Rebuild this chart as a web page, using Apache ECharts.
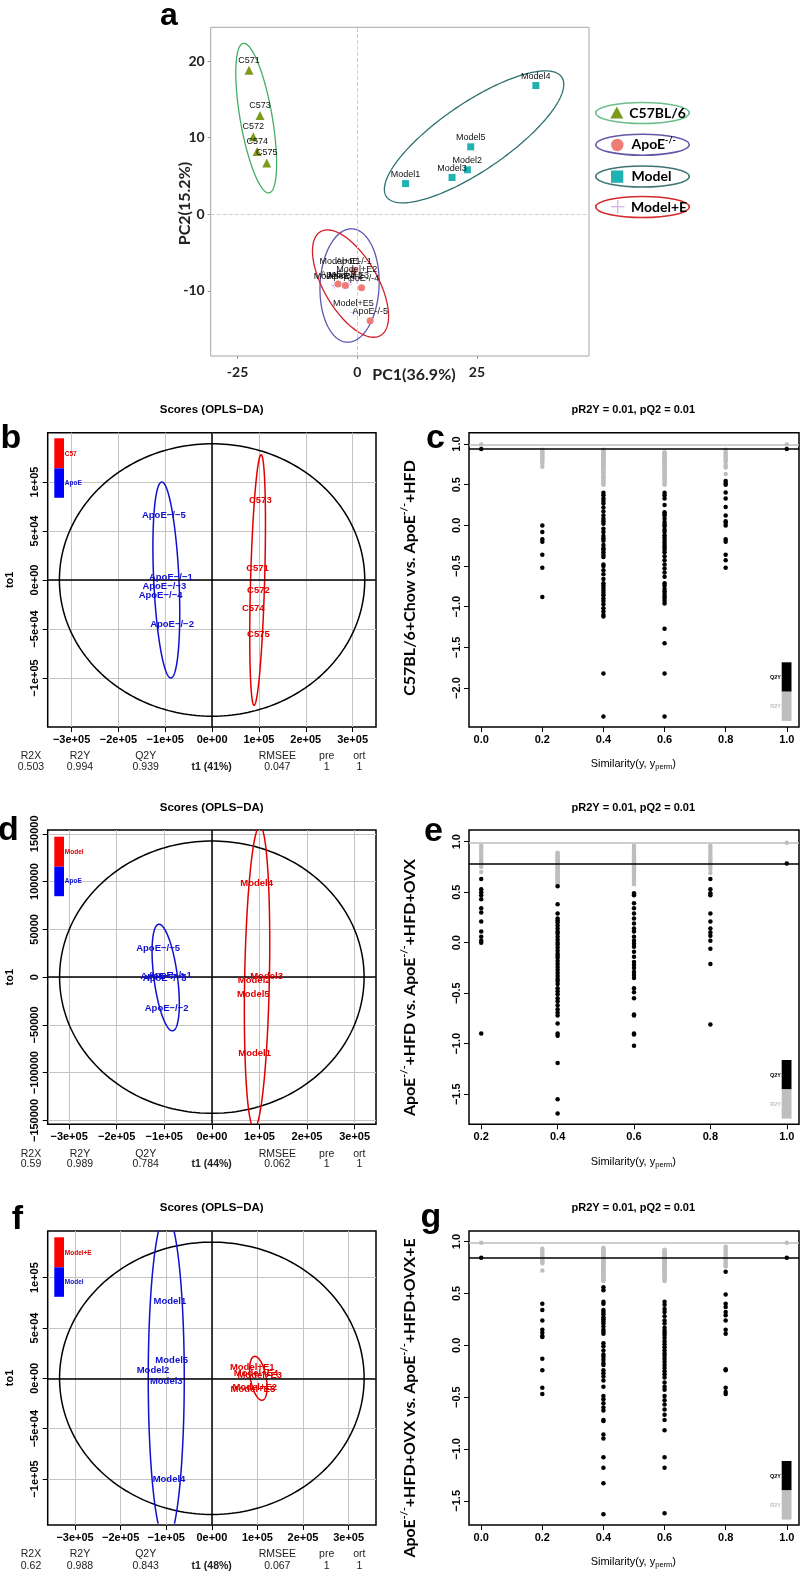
<!DOCTYPE html>
<html><head><meta charset="utf-8">
<script src="https://cdn.jsdelivr.net/npm/echarts@6/dist/echarts.min.js"></script>
<style>html,body{margin:0;padding:0;background:#fff}#c{width:800px;height:1572px}</style>
</head><body><div id="c"></div><script>
// ---------------- DATA ----------------
// Panel a (PCA)
const aC57Names = ['C571','C573','C572','C574','C575'];
const aC57X = [-22.6,-20.3,-21.7,-20.9,-18.9];
const aC57Y = [18.8,12.9,10.1,8.2,6.7];
const aModelNames = ['Model4','Model5','Model2','Model3','Model1'];
const aModelX = [37.3,23.7,23.0,19.8,10.1];
const aModelY = [16.8,8.8,5.8,4.8,4.0];
const aApoENames = ['ApoE-/-1','ApoE-/-3','ApoE-/-2','ApoE-/-4','ApoE-/-5'];
const aApoEX = [-0.7,-4.0,-2.5,0.9,2.7];
const aApoEY = [-7.3,-9.1,-9.3,-9.6,-13.9];
const aMENames = ['Model+E1','Model+E2','Model+E3','Model+E4','Model+E5'];
const aMEX = [-3.6,-0.1,-1.8,-4.8,-0.8];
const aMEY = [-7.4,-8.4,-9.2,-9.3,-12.8];
// ellipse: [centerX, centerY, axis1X, axis1Y, axis2X, axis2Y]
const aEllC57 = [-21.1,12.55,-2.7,9.75,3.3,0.35];
const aEllModel = [24.4,10.1,18.3,7.8,4.0,-3.65];
const aEllApoE = [-1.6,-9.3,0.52,7.4,6.16,-0.17];
const aEllME = [-1.4,-9.05,6.26,-6.78,4.89,1.76];
const aXTicks = [-25,0,25];
const aYTicks = [-10,0,10,20];

// Panel b (OPLS-DA C57 vs ApoE)
const bC57Names = ['C573','C571','C572','C574','C575'];
const bC57X = [1.03e5,0.97e5,0.99e5,0.88e5,0.99e5];
const bC57Y = [81600,11500,-10500,-29000,-55500];
const bApoENames = ['ApoE−/−5','ApoE−/−1','ApoE−/−3','ApoE−/−4','ApoE−/−2'];
const bApoEX = [-1.03e5,-0.88e5,-1.02e5,-1.10e5,-0.855e5];
const bApoEY = [65600,2400,-6400,-15600,-44900];
const bEllT2 = [0,0,3.26e5,0,0,1.39e5];
const bEllC57 = [0.972e5,0,0.075e5,1.278e5,0.15e5,0];
const bEllApoE = [-0.977e5,0,-0.096e5,1.0e5,0.27e5,0];
const bStats = ['0.503','0.994','0.939','t1 (41%)','0.047','1','1'];

// Panel d (OPLS-DA Model vs ApoE)
const dModelNames = ['Model4','Model3','Model2','Model5','Model1'];
const dModelX = [0.94e5,1.15e5,0.89e5,0.87e5,0.90e5];
const dModelY = [97900,600,-3100,-17800,-80200];
const dApoENames = ['ApoE−/−5','ApoE−/−1','ApoE−/−3','ApoE−/−4','ApoE−/−2'];
const dApoEX = [-1.13e5,-0.88e5,-0.99e5,-1.04e5,-0.95e5];
const dApoEY = [30300,2100,-1500,1000,-32800];
const dEllT2 = [0,0,3.2e5,0,0,1.425e5];
const dEllModel = [0.95e5,0,0.06e5,1.58e5,0.26e5,0];
const dEllApoE = [-0.97e5,-400,-0.14e5,55750,0.25e5,0];
const dStats = ['0.59','0.989','0.784','t1 (44%)','0.062','1','1'];

// Panel f (OPLS-DA Model+E vs Model)
const fModelNames = ['Model1','Model5','Model2','Model3','Model4'];
const fModelX = [-0.92e5,-0.88e5,-1.29e5,-1.0e5,-0.94e5];
const fModelY = [76000,18000,8000,-2700,-100000];
const fMENames = ['Model+E1','Model+E4','Model+E3','Model+E2','Model+E5'];
const fMEX = [0.885e5,0.97e5,1.05e5,0.94e5,0.90e5];
const fMEY = [10500,5000,3000,-9000,-10600];
const fEllT2 = [0,0,3.34e5,0,0,1.352e5];
const fEllModel = [-1.0e5,0,0,1.62e5,0.395e5,0];
const fEllME = [1.02e5,0,-0.077e5,0.218e5,0.175e5,0];
const fStats = ['0.62','0.988','0.843','t1 (48%)','0.067','1','1'];

const statHeads = ['R2X','R2Y','Q2Y','','RMSEE','pre','ort'];
const oplsXTicks = [-3e5,-2e5,-1e5,0,1e5,2e5,3e5];
const oplsYTicks = [-1e5,-5e4,0,5e4,1e5];
const dYTicks = [-150000,-100000,-50000,0,50000,100000,150000];

// Panel c permutations
const cQ2_00 = [0.939];
const cR2_00 = [0.994];
const cQ2_02 = [0.00,-0.08,-0.17,-0.20,-0.36,-0.52,-0.88];
const cR2_02 = [0.93,0.91,0.89,0.87,0.85,0.83,0.81,0.79,0.76,0.72];
const cQ2_04 = [0.40,0.37,0.33,0.30,0.27,0.22,0.17,0.12,0.08,0.05,0.02,-0.04,-0.08,-0.13,-0.16,-0.19,-0.24,-0.28,-0.30,-0.33,-0.36,-0.39,-0.48,-0.50,-0.55,-0.60,-0.66,-0.71,-0.74,-0.77,-0.80,-0.83,-0.86,-0.90,-0.93,-0.97,-1.02,-1.06,-1.10,-1.12,-1.82,-2.35];
const cR2_04 = [0.93,0.92,0.91,0.90,0.89,0.88,0.87,0.86,0.85,0.84,0.83,0.82,0.81,0.80,0.78,0.77,0.76,0.75,0.73,0.72,0.71,0.69,0.68,0.66,0.64,0.62,0.60,0.59,0.57,0.55,0.53,0.51,0.50];
const cQ2_06 = [0.40,0.37,0.33,0.25,0.16,0.14,0.12,0.08,0.04,0.01,-0.01,-0.05,-0.08,-0.12,-0.15,-0.18,-0.21,-0.24,-0.27,-0.30,-0.33,-0.38,-0.43,-0.48,-0.53,-0.58,-0.63,-0.71,-0.74,-0.78,-0.81,-0.84,-0.87,-0.90,-0.93,-0.96,-1.27,-1.45,-1.82,-2.35];
const cR2_06 = [0.90,0.89,0.88,0.87,0.86,0.85,0.84,0.83,0.82,0.81,0.80,0.79,0.78,0.77,0.76,0.74,0.73,0.72,0.70,0.69,0.67,0.66,0.64,0.62,0.61,0.59,0.57,0.55,0.53,0.51,0.50];
const cQ2_08 = [0.545,0.52,0.50,0.405,0.33,0.225,0.12,0.05,0.03,0.00,-0.17,-0.20,-0.36,-0.43,-0.52];
const cR2_08 = [0.93,0.90,0.88,0.86,0.84,0.82,0.80,0.78,0.74,0.71,0.63];
const cQ2_10 = [0.939];
const cR2_10 = [0.994];
const cLines = [0.994,0.939];

// Panel e permutations
const eQ2_02 = [0.63,0.53,0.50,0.47,0.43,0.34,0.30,0.21,0.11,0.06,0.02,0.00,-0.90];
const eR2_02 = [0.96,0.94,0.92,0.90,0.87,0.85,0.83,0.81,0.79,0.77,0.75,0.70];
const eQ2_04 = [0.56,0.38,0.29,0.24,0.22,0.20,0.17,0.14,0.11,0.09,0.06,0.03,0.00,-0.02,-0.05,-0.08,-0.11,-0.13,-0.15,-0.18,-0.21,-0.24,-0.27,-0.30,-0.33,-0.36,-0.38,-0.41,-0.45,-0.48,-0.51,-0.55,-0.58,-0.62,-0.66,-0.69,-0.72,-0.80,-0.90,-0.92,-1.19,-1.55,-1.69];
const eR2_04 = [0.89,0.88,0.87,0.86,0.85,0.84,0.83,0.82,0.81,0.80,0.79,0.78,0.77,0.76,0.75,0.74,0.73,0.72,0.71,0.70,0.69,0.68,0.67,0.66,0.65,0.64,0.63,0.62,0.61,0.60,0.59,0.58];
const eQ2_06 = [0.49,0.47,0.39,0.34,0.29,0.24,0.19,0.14,0.11,0.06,0.02,-0.01,-0.04,-0.09,-0.14,-0.19,-0.22,-0.25,-0.29,-0.32,-0.35,-0.45,-0.49,-0.55,-0.71,-0.72,-0.90,-0.91,-1.02];
const eR2_06 = [0.96,0.94,0.92,0.90,0.88,0.86,0.85,0.84,0.83,0.82,0.81,0.80,0.79,0.78,0.77,0.76,0.75,0.74,0.73,0.72,0.71,0.70,0.68,0.66,0.64,0.62,0.60,0.58];
const eQ2_08 = [0.63,0.53,0.49,0.47,0.29,0.21,0.14,0.10,0.07,0.02,-0.06,-0.21,-0.81];
const eR2_08 = [0.96,0.94,0.92,0.89,0.86,0.84,0.82,0.80,0.78,0.76,0.73,0.69];
const eQ2_10 = [0.784];
const eR2_10 = [0.989];
const eLines = [0.989,0.784];

// Panel g permutations
const gQ2_00 = [0.843];
const gR2_00 = [0.988];
const gQ2_02 = [0.40,0.34,0.24,0.15,0.12,0.09,0.08,-0.13,-0.24,-0.41,-0.47];
const gR2_02 = [0.93,0.91,0.90,0.88,0.86,0.84,0.82,0.81,0.79,0.72];
const gQ2_04 = [0.56,0.53,0.42,0.40,0.34,0.32,0.30,0.27,0.25,0.23,0.21,0.18,0.15,0.13,0.11,0.02,-0.01,-0.05,-0.09,-0.11,-0.14,-0.17,-0.19,-0.24,-0.27,-0.30,-0.34,-0.40,-0.49,-0.52,-0.56,-0.60,-0.63,-0.72,-0.73,-0.86,-0.90,-1.08,-1.18,-1.33,-1.63];
const gR2_04 = [0.94,0.93,0.92,0.91,0.90,0.89,0.88,0.87,0.86,0.85,0.84,0.83,0.82,0.81,0.80,0.79,0.78,0.77,0.76,0.75,0.74,0.73,0.72,0.71,0.70,0.69,0.68,0.67,0.66,0.65,0.64,0.63,0.62];
const gQ2_06 = [0.42,0.39,0.35,0.32,0.28,0.24,0.21,0.17,0.14,0.12,0.10,0.07,0.04,0.01,-0.02,-0.05,-0.08,-0.10,-0.13,-0.16,-0.19,-0.22,-0.25,-0.28,-0.31,-0.36,-0.40,-0.43,-0.49,-0.53,-0.57,-0.62,-0.67,-0.72,-0.82,-1.08,-1.18,-1.62];
const gR2_06 = [0.92,0.91,0.90,0.89,0.88,0.87,0.86,0.85,0.84,0.83,0.82,0.81,0.80,0.79,0.78,0.77,0.76,0.75,0.74,0.73,0.72,0.71,0.70,0.69,0.68,0.67,0.66,0.65,0.64,0.63,0.62];
const gQ2_08 = [0.71,0.49,0.40,0.37,0.32,0.29,0.24,0.15,0.11,-0.23,-0.24,-0.41,-0.45,-0.47];
const gR2_08 = [0.95,0.93,0.91,0.89,0.87,0.85,0.83,0.81,0.79,0.77,0.76];
const gQ2_10 = [0.843];
const gR2_10 = [0.988];
const gLines = [0.988,0.843];

const permXTicks = [0,0.2,0.4,0.6,0.8,1.0];
const permXTicksE = [0.2,0.4,0.6,0.8,1.0];
const cYTicks = [-2,-1.5,-1,-0.5,0,0.5,1];
const egYTicks = [-1.5,-1,-0.5,0,0.5,1];

// ---------------- BUILD ----------------
const FONT = "'Liberation Sans', Arial, sans-serif";
const FONT_A = "Lato, 'Open Sans', sans-serif";
const chart = echarts.init(document.getElementById('c'));

const G = [
  {left:210.7, top:27.3, width:378.3, height:328.7},
  {left:47.7, top:432.7, width:328.3, height:294.3},
  {left:469, top:432.7, width:330, height:294.3},
  {left:47.7, top:830, width:328.3, height:294.3},
  {left:469, top:830, width:330, height:294.3},
  {left:47.7, top:1231, width:328.3, height:294},
  {left:469, top:1231, width:330, height:294}
];

const sci = v => { if (v === 0) return '0e+00'; const e = Math.floor(Math.log10(Math.abs(v)) + 1e-9); const m = Math.round(Math.abs(v) / Math.pow(10, e)); return (v < 0 ? '−' : '') + m + 'e+' + String(e).padStart(2, '0'); };
const plain = v => (v < 0 ? '−' : '') + Math.abs(v);
const dec1 = v => (v < 0 ? '−' : '') + Math.abs(v).toFixed(1);

function rAxis(idx, min, max, ticks, fmt, split, rotate) {
  return {type:'value', gridIndex:idx, min, max,
    axisLine:{show:false, onZero:false},
    axisTick:{show:true, length:5, lineStyle:{color:'#000', width:1}, customValues:ticks},
    axisLabel:{customValues:ticks, formatter:fmt, fontFamily:FONT, fontSize:11, fontWeight:'bold', color:'#000', margin:7, rotate:rotate || 0},
    splitLine:{show:!!split, lineStyle:{color:'#c4c4c4', width:1}}};
}
function aAxis(min, max, ticks, margin) {
  return {type:'value', gridIndex:0, min, max,
    axisLine:{show:false, onZero:false},
    axisTick:{show:true, length:3, lineStyle:{color:'#999'}, customValues:ticks},
    axisLabel:{customValues:ticks, fontFamily:FONT_A, fontSize:14, fontWeight:'bold', color:'#222', margin:margin},
    splitLine:{show:false}};
}

const xAxis = [
  aAxis(-30.6, 48.4, aXTicks, 9),
  rAxis(1, -3.51e5, 3.50e5, oplsXTicks, sci, true),
  rAxis(2, -0.04, 1.04, permXTicks, dec1, false),
  rAxis(3, -3.45e5, 3.45e5, oplsXTicks, sci, true),
  rAxis(4, 0.168, 1.032, permXTicksE, dec1, false),
  rAxis(5, -3.6e5, 3.6e5, oplsXTicks, sci, true),
  rAxis(6, -0.04, 1.04, permXTicks, dec1, false)
];
const yAxis = [
  aAxis(-18.5, 24.4, aYTicks, 6),
  rAxis(1, -1.5e5, 1.503e5, oplsYTicks, sci, true, 90),
  rAxis(2, -2.478, 1.139, cYTicks, dec1, false, 90),
  rAxis(3, -1.54e5, 1.54e5, dYTicks, plain, true, 90),
  rAxis(4, -1.798, 1.116, egYTicks, dec1, false, 90),
  rAxis(5, -1.457e5, 1.463e5, oplsYTicks, sci, true, 90),
  rAxis(6, -1.733, 1.102, egYTicks, dec1, false, 90)
];

function pairs(xs, ys, names) { return xs.map((x, i) => ({value:[x, ys[i]], name:names[i]})); }
function col(x, arr) { return arr.map(v => [x, v]); }

function ellipseItem(color, width) {
  return function (params, api) {
    const cx = api.value(0), cy = api.value(1), ax = api.value(2), ay = api.value(3), bx = api.value(4), by = api.value(5);
    const cs = params.coordSys;
    const segs = []; let cur = [];
    for (let i = 0; i <= 240; i++) {
      const t = i / 240 * 2 * Math.PI;
      const p = api.coord([cx + ax * Math.cos(t) + bx * Math.sin(t), cy + ay * Math.cos(t) + by * Math.sin(t)]);
      const inside = p[0] >= cs.x - 0.5 && p[0] <= cs.x + cs.width + 0.5 && p[1] >= cs.y - 0.5 && p[1] <= cs.y + cs.height + 0.5;
      if (inside) cur.push(p); else { if (cur.length > 1) segs.push(cur); cur = []; }
    }
    if (cur.length > 1) segs.push(cur);
    return {type:'group', children:segs.map(s => ({type:'polyline', shape:{points:s}, style:{stroke:color, lineWidth:width, fill:'none'}}))};
  };
}
function ellSeries(idx, params, color, width) {
  return {type:'custom', xAxisIndex:idx, yAxisIndex:idx, renderItem:ellipseItem(color, width), data:[params], silent:true, z:4, encode:{x:0, y:1}};
}
function textSeries(idx, xs, ys, names, color, extra) {
  const s = {type:'scatter', xAxisIndex:idx, yAxisIndex:idx, data:pairs(xs, ys, names), symbol:'circle', symbolSize:1, itemStyle:{color:'rgba(0,0,0,0)'}, silent:true, z:6,
    label:{show:true, position:'inside', formatter:'{b}', color:color, opacity:1, fontFamily:FONT, fontWeight:'bold', fontSize:9.5, textBorderWidth:0}};
  return Object.assign(s, extra || {});
}
const zeroLines = {silent:true, symbol:'none', label:{show:false}, lineStyle:{color:'#000', width:1.5, type:'solid'}, data:[{xAxis:0}, {yAxis:0}]};

function permSeries(idx, cols, lines) {
  const gray = [], black = [];
  cols.forEach(c => { gray.push(...col(c[0], c[2])); black.push(...col(c[0], c[1])); });
  return [
    {type:'scatter', xAxisIndex:idx, yAxisIndex:idx, data:gray, symbol:'circle', symbolSize:4.5, itemStyle:{color:'#BEBEBE', opacity:1}, silent:true, z:2,
      markLine:{silent:true, symbol:'none', label:{show:false}, lineStyle:{color:'#BEBEBE', width:1.5, type:'solid'}, data:[{yAxis:lines[0]}]}},
    {type:'scatter', xAxisIndex:idx, yAxisIndex:idx, data:black, symbol:'circle', symbolSize:4.5, itemStyle:{color:'#000', opacity:1}, silent:true, z:3,
      markLine:{silent:true, symbol:'none', label:{show:false}, lineStyle:{color:'#000', width:1.5, type:'solid'}, data:[{yAxis:lines[1]}]}}
  ];
}

const aLabel = {show:true, position:'top', distance:1, formatter:'{b}', fontSize:9, color:'#111', fontFamily:FONT};
const PLUS = 'path://M4.4,0h1.2v4.4h4.4v1.2h-4.4v4.4h-1.2v-4.4h-4.4v-1.2h4.4z';

const series = [
  ellSeries(0, aEllC57, '#45AE66', 1.3),
  ellSeries(0, aEllModel, '#2F7070', 1.3),
  ellSeries(0, aEllApoE, '#5F56B0', 1.3),
  ellSeries(0, aEllME, '#D0202A', 1.3),
  {type:'scatter', xAxisIndex:0, yAxisIndex:0, data:pairs(aC57X, aC57Y, aC57Names), symbol:'triangle', symbolSize:9, itemStyle:{color:'#7C9A1C', opacity:1}, label:aLabel, silent:true, z:5,
    markLine:{silent:true, symbol:'none', label:{show:false}, lineStyle:{color:'#d0d0d0', width:1, type:'dashed'}, data:[{xAxis:0}, {yAxis:0}]}},
  {type:'scatter', xAxisIndex:0, yAxisIndex:0, data:pairs(aModelX, aModelY, aModelNames), symbol:'rect', symbolSize:7, itemStyle:{color:'#20B2B2', opacity:1}, label:aLabel, silent:true, z:5},
  {type:'scatter', xAxisIndex:0, yAxisIndex:0, data:pairs(aMEX, aMEY, aMENames), symbol:PLUS, symbolSize:7, itemStyle:{color:'#D8B8F0', opacity:1}, label:aLabel, silent:true, z:5},
  {type:'scatter', xAxisIndex:0, yAxisIndex:0, data:pairs(aApoEX, aApoEY, aApoENames), symbol:'circle', symbolSize:7, itemStyle:{color:'#F07C78', opacity:1}, label:aLabel, silent:true, z:5},

  ellSeries(1, bEllT2, '#000', 1.5),
  ellSeries(1, bEllC57, '#E00000', 1.5),
  ellSeries(1, bEllApoE, '#1010D0', 1.5),
  textSeries(1, bC57X, bC57Y, bC57Names, '#E00000', {markLine:zeroLines}),
  textSeries(1, bApoEX, bApoEY, bApoENames, '#1010D0'),

  ...permSeries(2, [[0, cQ2_00, cR2_00], [0.2, cQ2_02, cR2_02], [0.4, cQ2_04, cR2_04], [0.6, cQ2_06, cR2_06], [0.8, cQ2_08, cR2_08], [1.0, cQ2_10, cR2_10]], cLines),

  ellSeries(3, dEllT2, '#000', 1.5),
  ellSeries(3, dEllModel, '#E00000', 1.5),
  ellSeries(3, dEllApoE, '#1010D0', 1.5),
  textSeries(3, dModelX, dModelY, dModelNames, '#E00000', {markLine:zeroLines}),
  textSeries(3, dApoEX, dApoEY, dApoENames, '#1010D0'),

  ...permSeries(4, [[0.2, eQ2_02, eR2_02], [0.4, eQ2_04, eR2_04], [0.6, eQ2_06, eR2_06], [0.8, eQ2_08, eR2_08], [1.0, eQ2_10, eR2_10]], eLines),

  ellSeries(5, fEllT2, '#000', 1.5),
  ellSeries(5, fEllModel, '#1010D0', 1.5),
  ellSeries(5, fEllME, '#E00000', 1.5),
  textSeries(5, fModelX, fModelY, fModelNames, '#1010D0', {markLine:zeroLines}),
  textSeries(5, fMEX, fMEY, fMENames, '#E00000'),

  ...permSeries(6, [[0, gQ2_00, gR2_00], [0.2, gQ2_02, gR2_02], [0.4, gQ2_04, gR2_04], [0.6, gQ2_06, gR2_06], [0.8, gQ2_08, gR2_08], [1.0, gQ2_10, gR2_10]], gLines)
];

// ---------------- GRAPHICS (titles, legends, annotations) ----------------
function T(x, y, text, o) {
  o = o || {};
  return {type:'text', x:x, y:y, rotation:o.rot || 0, silent:true, z:100,
    style:Object.assign({text:text, align:o.align || 'center', verticalAlign:'middle', fontFamily:o.family || FONT, fontSize:o.size || 11,
      fontWeight:o.weight || 'normal', fill:o.color || '#000'}, o.style || {})};
}
const gfx = [];
// panel letters
[['a',169,16,32],['b',11,439,34],['c',435.5,438.5,34],['d',8.5,831,34],['e',433.5,831.5,34],['f',17.5,1219.5,34],['g',431,1217.5,34]]
  .forEach(l => gfx.push(T(l[1], l[2], l[0], {size:l[3], weight:'bold', family:"'Liberation Sans', Arial, sans-serif"})));

// panel a axis names
gfx.push(T(185, 203.5, 'PC2(15.2%)', {rot:Math.PI / 2, size:16, weight:'bold', family:FONT_A, color:'#222'}));
gfx.push(T(414, 375, 'PC1(36.9%)', {size:16, weight:'bold', family:FONT_A, color:'#222'}));
// panel a legend
const legY = [113, 144.7, 176.5, 207];
const legCol = ['#6CBF8A', '#6457A8', '#3D7373', '#D42A2A'];
legY.forEach((y, i) => gfx.push({type:'ellipse', silent:true, z:90, shape:{cx:642.5, cy:y, rx:46.8, ry:10.5}, style:{fill:'#fff', stroke:legCol[i], lineWidth:1.6}}));
gfx.push({type:'polygon', silent:true, z:95, shape:{points:[[616.8, 106.5], [623.3, 118.5], [610.3, 118.5]]}, style:{fill:'#7C9A1C'}});
gfx.push({type:'circle', silent:true, z:95, shape:{cx:617.3, cy:145, r:6.2}, style:{fill:'#F07C78'}});
gfx.push({type:'rect', silent:true, z:95, shape:{x:611, y:170.5, width:12.3, height:12.3}, style:{fill:'#20B2B2'}});
gfx.push({type:'rect', silent:true, z:95, shape:{x:611, y:206, width:13.4, height:1.4}, style:{fill:'#D8B8F0'}});
gfx.push({type:'rect', silent:true, z:95, shape:{x:617, y:200, width:1.4, height:13.4}, style:{fill:'#D8B8F0'}});
gfx.push(T(629.3, 113, 'C57BL/6', {align:'left', size:14, weight:'bold', family:FONT_A}));
gfx.push({type:'text', x:631.5, y:144.7, silent:true, z:100, style:{text:'{m|ApoE}{s|-/-}', align:'left', verticalAlign:'middle',
  rich:{m:{fontFamily:FONT_A, fontSize:14, fontWeight:'bold', fill:'#000', lineHeight:18}, s:{fontFamily:FONT_A, fontSize:9, fontWeight:'bold', fill:'#000', lineHeight:10, verticalAlign:'top'}}}});
gfx.push(T(631.5, 176.5, 'Model', {align:'left', size:14, weight:'bold', family:FONT_A}));
gfx.push(T(631, 207, 'Model+E', {align:'left', size:14, weight:'bold', family:FONT_A}));

// OPLS-DA panels
const statX = [31, 80, 145.7, 211.7, 277.3, 326.7, 359.3];
function oplsDecor(gi, legTop, names, colors, stats, titleY, headY, valY) {
  const g = G[gi];
  gfx.push(T(211.7, titleY, 'Scores (OPLS−DA)', {size:11.5, weight:'bold'}));
  gfx.push(T(10, g.top + g.height / 2, 'to1', {rot:Math.PI / 2, size:11, weight:'bold'}));
  statHeads.forEach((h, i) => { if (h) gfx.push(T(statX[i], headY, h, {size:10.5, color:'#222'})); });
  stats.forEach((v, i) => gfx.push(T(statX[i], valY, v, {size:10.5, color:'#222', weight:i === 3 ? 'bold' : 'normal'})));
  gfx.push({type:'rect', silent:true, z:90, shape:{x:54.3, y:legTop, width:9.7, height:30}, style:{fill:'#FF0000'}});
  gfx.push({type:'rect', silent:true, z:90, shape:{x:54.3, y:legTop + 30, width:9.7, height:29.5}, style:{fill:'#0000FF'}});
  gfx.push(T(64.8, legTop + 15.5, names[0], {align:'left', size:6.5, weight:'bold', color:colors[0]}));
  gfx.push(T(64.8, legTop + 45, names[1], {align:'left', size:6.5, weight:'bold', color:colors[1]}));
}
oplsDecor(1, 438.3, ['C57', 'ApoE'], ['#E00000', '#1010D0'], bStats, 410, 756, 766.7);
oplsDecor(3, 836.7, ['Model', 'ApoE'], ['#E00000', '#1010D0'], dStats, 807.7, 1154, 1164.3);
oplsDecor(5, 1237.3, ['Model+E', 'Model'], ['#E00000', '#1010D0'], fStats, 1208.3, 1554, 1565.7);

// permutation panels
function permDecor(gi, titleY, nameParts, nameY, simY, legTop) {
  gfx.push(T(633.3, titleY, 'pR2Y = 0.01, pQ2 = 0.01', {size:11, weight:'bold'}));
  gfx.push({type:'text', x:410, y:nameY, rotation:Math.PI / 2, silent:true, z:100, style:{text:nameParts, align:'center', verticalAlign:'middle',
    rich:{m:{fontFamily:FONT_A, fontSize:16, fontWeight:'bold', fill:'#000', lineHeight:22}, s:{fontFamily:FONT_A, fontSize:10, fontWeight:'bold', fill:'#000', lineHeight:12, verticalAlign:'top'}}}});
  gfx.push({type:'text', x:633.3, y:simY, silent:true, z:100, style:{text:'{m|Similarity(y, y}{s|perm}{m|)}', align:'center', verticalAlign:'middle',
    rich:{m:{fontFamily:FONT, fontSize:11, fill:'#000', lineHeight:14}, s:{fontFamily:FONT, fontSize:7.5, fill:'#000', lineHeight:9, verticalAlign:'bottom'}}}});
  gfx.push({type:'rect', silent:true, z:90, shape:{x:781.7, y:legTop, width:9.8, height:29.4}, style:{fill:'#000'}});
  gfx.push({type:'rect', silent:true, z:90, shape:{x:781.7, y:legTop + 29.4, width:9.8, height:29.2}, style:{fill:'#BEBEBE'}});
  gfx.push(T(781, legTop + 15, 'Q2Y', {align:'right', size:5.5, weight:'bold', color:'#000'}));
  gfx.push(T(781, legTop + 44, 'R2Y', {align:'right', size:5.5, weight:'bold', color:'#BEBEBE'}));
}
permDecor(2, 410, '{m|C57BL/6+Chow vs. ApoE}{s|-/-}{m|+HFD}', 578, 764.3, 662.3);
permDecor(4, 808.3, '{m|ApoE}{s|-/-}{m|+HFD vs. ApoE}{s|-/-}{m|+HFD+OVX}', 987.5, 1161.7, 1060);
permDecor(6, 1208.3, '{m|ApoE}{s|-/-}{m|+HFD+OVX vs. ApoE}{s|-/-}{m|+HFD+OVX+E}', 1398, 1561.7, 1461);

const option = {
  animation:false,
  backgroundColor:'#fff',
  grid:G.map((g, i) => Object.assign({show:true, borderColor:i === 0 ? '#a6a6a6' : '#000', borderWidth:i === 0 ? 1 : 1.5, backgroundColor:'transparent', containLabel:false, outerBoundsMode:'none'}, g)),
  xAxis:xAxis,
  yAxis:yAxis,
  series:series,
  graphic:gfx
};
chart.setOption(option);
</script></body></html>
